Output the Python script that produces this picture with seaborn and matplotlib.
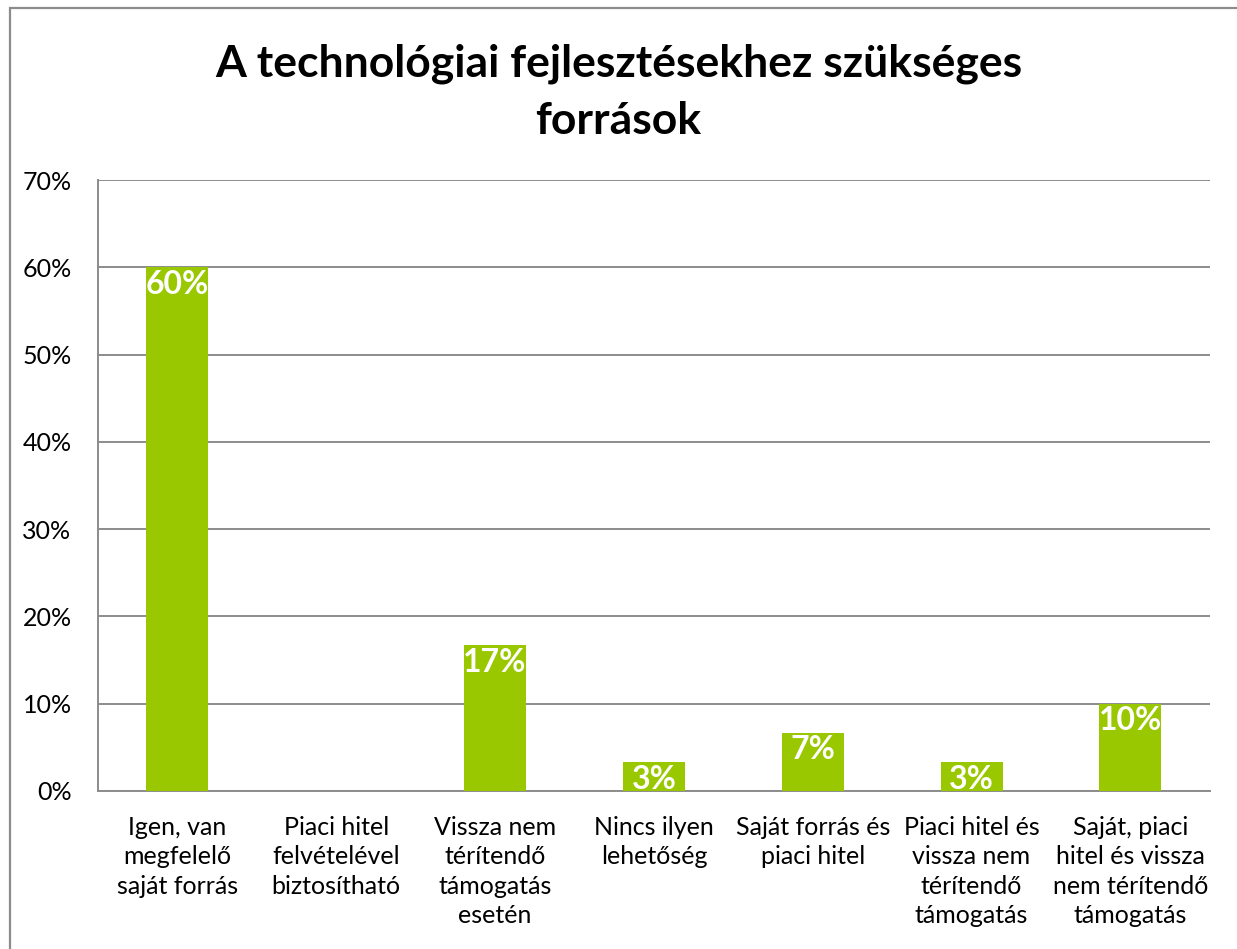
import pandas as pd
import numpy as np
import matplotlib
matplotlib.use('Agg')
import matplotlib.pyplot as plt
from matplotlib.ticker import PercentFormatter
from matplotlib.patches import Rectangle
import seaborn as sns

# Chart data
categories = [
    'Igen, van\nmegfelelő\nsaját forrás',
    'Piaci hitel\nfelvételével\nbiztosítható',
    'Vissza nem\ntérítendő\ntámogatás\nesetén',
    'Nincs ilyen\nlehetőség',
    'Saját forrás és\npiaci hitel',
    'Piaci hitel és\nvissza nem\ntérítendő\ntámogatás',
    'Saját, piaci\nhitel és vissza\nnem térítendő\ntámogatás',
]
shares = [60.0, 0.0, 16.67, 3.33, 6.67, 3.33, 10.0]
title = 'A technológiai fejlesztésekhez szükséges\nforrások'

df = pd.DataFrame({'category': categories, 'share': shares})

sns.set_style('white')
plt.rcParams['font.family'] = ['Lato', 'DejaVu Sans']
plt.rcParams['text.color'] = 'black'

fig = plt.figure(figsize=(12.37, 9.49), dpi=100)
ax = fig.add_axes([0.0792, 0.1665, 0.8988, 0.6438])

sns.barplot(data=df, x='category', y='share', color='#99C800', width=0.39,
            saturation=1, linewidth=0, ax=ax, zorder=3)

ax.set_ylim(0, 70)
ax.set_yticks(np.arange(0, 71, 10))
ax.yaxis.set_major_formatter(PercentFormatter(decimals=0))
ax.grid(axis='y', color='#8c8c8c', linewidth=1.4, zorder=0)
ax.set_axisbelow(True)
ax.set_xlabel('')
ax.set_ylabel('')

for side in ['top', 'right']:
    ax.spines[side].set_visible(False)
for side in ['left', 'bottom']:
    ax.spines[side].set_color('#8c8c8c')
    ax.spines[side].set_linewidth(1.4)

ax.tick_params(axis='y', labelsize=18, length=0, pad=19, labelcolor='black')
ax.tick_params(axis='x', labelsize=18, length=0, pad=18, labelcolor='black')
for lbl in ax.get_xticklabels():
    lbl.set_linespacing(1.33)

# value labels inside the bar tops
for i, v in enumerate(shares):
    if v > 0:
        ax.text(i, v - 0.3, f'{v:.0f}%', ha='center', va='top', color='white',
                fontsize=23, fontweight='bold', zorder=4)

fig.text(0.5, 0.903, title, ha='center', va='center', fontsize=32,
         fontweight='bold', linespacing=1.5, color='black')

# chart area border
fig.patches.append(Rectangle((10 / 1237, -0.01), 1.2, 1 - 8 / 949 + 0.01,
                             transform=fig.transFigure, fill=False,
                             edgecolor='#8c8c8c', linewidth=1.6))

fig.savefig('out.png', dpi=100)
